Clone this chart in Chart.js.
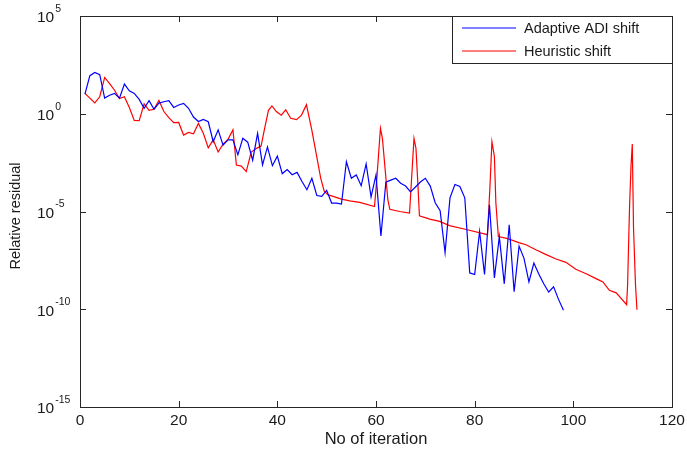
<!DOCTYPE html>
<html>
<head>
<meta charset="utf-8">
<script src="https://cdn.jsdelivr.net/npm/chart.js@4.4.1/dist/chart.umd.min.js"></script>
<style>
html, body { margin: 0; padding: 0; background: #fff; }
#wrap { width: 687px; height: 452px; }
</style>
</head>
<body>
<div id="wrap"><canvas id="chart" width="687" height="452"></canvas></div>
<script>
// tick labels
var xTicks = [0, 20, 40, 60, 80, 100, 120];
var yTicks = [1e5, 1e0, 1e-5, 1e-10, 1e-15];
var yTickPowers = ['5', '0', '-5', '-10', '-15'];
var seriesNames = ['Adaptive ADI shift', 'Heuristic shift'];

// Adaptive ADI shift
var adiIter = [1, 2, 3, 4, 5, 6, 7, 8, 9, 10, 11, 12, 13, 14, 15, 16, 17, 18, 19, 20,
  21, 22, 23, 24, 25, 26, 27, 28, 29, 30, 31, 32, 33, 34, 35, 36, 37, 38, 39, 40,
  41, 42, 43, 44, 45, 46, 47, 48, 49, 50, 51, 52, 53, 54, 55, 56, 57, 58, 59, 60,
  61, 62, 63, 64, 65, 66, 67, 68, 69, 70, 71, 72, 73, 74, 75, 76, 77, 78, 79, 80,
  81, 82, 83, 84, 85, 86, 87, 88, 89, 90, 91, 92, 93, 94, 95, 96, 97, 98];
var adiRes = [1.0e1, 8.9e1, 1.3e2, 1.0e2, 6.3e0, 8.9e0, 1.1e1, 6.3e0, 3.3e1, 1.5e1,
  1.1e1, 5.4e0, 1.9e0, 4.7e0, 1.7e0, 3.5e0, 4.1e0, 4.7e0, 2.1e0, 2.8e0,
  3.4e0, 1.9e0, 6.8e-1, 4.0e-1, 5.1e-1, 3.9e-1, 3.7e-2, 1.5e-1, 2.5e-2, 4.6e-2,
  4.6e-2, 7.9e-3, 5.5e-2, 3.5e-2, 4.2e-3, 1.0e-1, 2.4e-3, 2.0e-2, 2.2e-3, 6.8e-3,
  8.7e-4, 1.4e-3, 7.6e-4, 1.0e-3, 3.4e-4, 1.3e-4, 5.0e-4, 6.6e-5, 5.9e-5, 1.2e-4,
  2.7e-5, 2.7e-5, 2.4e-5, 3.5e-3, 5.0e-4, 7.4e-4, 2.1e-4, 2.7e-3, 5.6e-5, 7.4e-4,
  5.6e-7, 3.2e-4, 4.0e-4, 5.0e-4, 2.8e-4, 2.0e-4, 1.0e-4, 1.8e-4, 3.2e-4, 5.0e-4,
  2.0e-4, 2.8e-5, 1.1e-5, 7.9e-8, 5.0e-5, 2.4e-4, 1.9e-4, 5.0e-5, 7.2e-9, 6.0e-9,
  9.5e-7, 6.0e-9, 2.2e-5, 4.0e-9, 5.2e-7, 2.0e-9, 2.1e-6, 7.9e-10, 1.7e-7, 4.0e-8,
  2.5e-9, 2.3e-8, 6.3e-9, 2.0e-9, 7.6e-10, 1.4e-9, 3.2e-10, 8.9e-11];

// Heuristic shift
var heurIter = [1, 3, 4, 5, 6, 7, 8, 9, 10, 11, 12, 13, 14, 15, 16, 17, 18, 19, 20,
  21, 22, 23, 24, 25, 26, 27, 28, 29, 30, 31, 31.7, 32.7, 33.7, 34.7, 35.8, 36.7, 37.5,
  38.2, 38.9, 39.8, 40.8, 41.7, 42.7, 43.9, 44.9, 45.9, 47.0, 48.0, 48.8, 49.5, 50.3,
  51.3, 53.0, 54.7, 56.7, 59.7, 60.2, 60.9, 61.3, 61.8, 62.4, 62.8, 64.8, 66.8,
  67.2, 67.7, 68.1, 68.5, 68.8, 70.9, 72.9, 74.9, 78.3, 82.6, 83.1, 83.5, 84.0,
  84.3, 84.8, 86.7, 89.1, 90.4, 92.4, 94.5, 96.5, 98.5, 100.5, 102.6, 104.6, 106.0,
  107.3, 108.7, 110.8, 111.0, 111.2, 111.4, 111.7, 111.95, 112.2, 112.6, 112.9];
var heurRes = [1.1e1, 3.6e0, 7.4e0, 7.2e1, 3.5e1, 1.6e1, 6.0e0, 7.4e0, 2.1e0, 4.5e-1,
  4.4e-1, 3.2e0, 1.5e0, 1.7e0, 4.8e0, 1.3e0, 6.3e-1, 3.5e-1, 3.6e-1,
  8.1e-2, 1.1e-1, 9.5e-2, 3.2e-1, 1.0e-1, 1.8e-2, 4.6e-2, 1.1e-2, 2.8e-2, 4.9e-2,
  1.5e-1, 2.4e-3, 2.1e-3, 1.1e-3, 1.1e-2, 1.7e-2, 2.2e-2, 2.2e-1,
  1.5e0, 2.5e0, 1.3e0, 8.5e-1, 1.6e0, 5.9e-1, 5.0e-1, 8.5e-1, 2.9e0, 1.4e-1,
  6.3e-3, 5.0e-4, 1.1e-4, 7.1e-5, 5.9e-5, 4.3e-5, 3.5e-5, 2.9e-5, 1.8e-5,
  6.2e-4, 1.8e-1, 5.5e-2, 2.0e-3, 4.0e-5, 1.3e-5, 1.0e-5, 8.3e-6,
  4.2e-4, 5.5e-2, 1.7e-2, 2.3e-4, 6.0e-6, 4.1e-6, 3.1e-6, 1.9e-6, 1.2e-6, 6.5e-7,
  1.9e-4, 3.7e-2, 6.5e-3, 2.7e-5, 5.2e-7, 4.1e-7, 2.5e-7, 2.0e-7, 1.1e-7, 6.2e-8,
  3.7e-8, 2.5e-8, 1.1e-8, 6.6e-9, 3.7e-9, 2.5e-9, 9.3e-10, 6.9e-10, 1.7e-10,
  1.8e-9, 2.0e-7, 1.9e-5, 2.4e-3, 2.8e-2, 1.4e-6, 1.8e-9, 9.5e-11];

function toPoints(xs, ys) {
  var pts = [];
  for (var i = 0; i < xs.length; i++) pts.push({ x: xs[i], y: ys[i] });
  return pts;
}

var FONT = '"Liberation Sans", Arial, sans-serif';
var INK = '#262626';

// MATLAB style box, inward ticks, 10^n labels, legend
var frame = {
  id: 'frame',
  afterDraw: function(chart) {
    var ctx = chart.ctx, a = chart.chartArea;
    var xs = chart.scales.x, ys = chart.scales.y;
    ctx.save();
    ctx.strokeStyle = INK;
    ctx.lineWidth = 1;
    ctx.strokeRect(a.left + 0.5, a.top + 0.5, a.right - a.left, a.bottom - a.top);

    ctx.beginPath();
    xTicks.forEach(function(v) {
      var px = Math.round(xs.getPixelForValue(v)) + 0.5;
      ctx.moveTo(px, a.bottom); ctx.lineTo(px, a.bottom - 6);
      ctx.moveTo(px, a.top); ctx.lineTo(px, a.top + 6);
    });
    yTicks.forEach(function(v) {
      var py = Math.round(ys.getPixelForValue(v)) + 0.5;
      ctx.moveTo(a.left, py); ctx.lineTo(a.left + 6, py);
      ctx.moveTo(a.right, py); ctx.lineTo(a.right - 6, py);
    });
    ctx.stroke();

    ctx.fillStyle = '#1a1a1a';
    ctx.textAlign = 'center';
    ctx.textBaseline = 'middle';
    ctx.font = '15.5px ' + FONT;
    xTicks.forEach(function(v) {
      ctx.fillText(String(v), xs.getPixelForValue(v), a.bottom + 14);
    });

    ctx.textAlign = 'left';
    yTicks.forEach(function(v, i) {
      var py = ys.getPixelForValue(v);
      ctx.font = '15.5px ' + FONT;
      ctx.fillText('10', 37, py + 2);
      var w = ctx.measureText('10').width;
      ctx.font = '10.5px ' + FONT;
      ctx.fillText(yTickPowers[i], 37 + w + 1, py - 7);
    });

    ctx.font = '16.5px ' + FONT;
    ctx.textAlign = 'center';
    ctx.fillText('No of iteration', (a.left + a.right) / 2, 439);
    ctx.font = '14.5px ' + FONT;
    ctx.save();
    ctx.translate(16, 216);
    ctx.rotate(-Math.PI / 2);
    ctx.fillText('Relative residual', 0, 0);
    ctx.restore();

    // legend box
    var lx = 452.5, ly = a.top + 0.5, lw = a.right - 452, lh = 47;
    ctx.fillStyle = '#fff';
    ctx.fillRect(lx, ly, lw, lh);
    ctx.strokeStyle = INK;
    ctx.lineWidth = 1;
    ctx.strokeRect(lx, ly, lw, lh);
    var ds = chart.data.datasets;
    for (var i = 0; i < ds.length; i++) {
      var yy = ly + 11.5 + i * 23;
      ctx.strokeStyle = ds[i].borderColor;
      ctx.lineWidth = 1.2;
      ctx.beginPath();
      ctx.moveTo(462, yy); ctx.lineTo(516, yy);
      ctx.stroke();
      ctx.fillStyle = '#1a1a1a';
      ctx.font = '14.5px ' + FONT;
      ctx.textAlign = 'left';
      ctx.fillText(ds[i].label, 524, yy + 1);
    }
    ctx.restore();
  }
};

var ctx = document.getElementById('chart').getContext('2d');
var chart = new Chart(ctx, {
  type: 'line',
  data: {
    datasets: [{
      label: seriesNames[0],
      data: toPoints(adiIter, adiRes),
      borderColor: '#0000ff',
      borderWidth: 1.2,
      pointRadius: 0,
      tension: 0,
      fill: false
    }, {
      label: seriesNames[1],
      data: toPoints(heurIter, heurRes),
      borderColor: '#ff0000',
      borderWidth: 1.2,
      pointRadius: 0,
      tension: 0,
      fill: false
    }]
  },
  options: {
    responsive: false,
    animation: false,
    devicePixelRatio: 1,
    layout: { padding: { left: 80, top: 16, right: 15, bottom: 45 } },
    plugins: { legend: { display: false }, tooltip: { enabled: false } },
    scales: {
      x: { type: 'linear', min: 0, max: 120, display: false },
      y: { type: 'logarithmic', min: 1e-15, max: 1e5, display: false }
    }
  },
  plugins: [frame]
});
</script>
</body>
</html>
